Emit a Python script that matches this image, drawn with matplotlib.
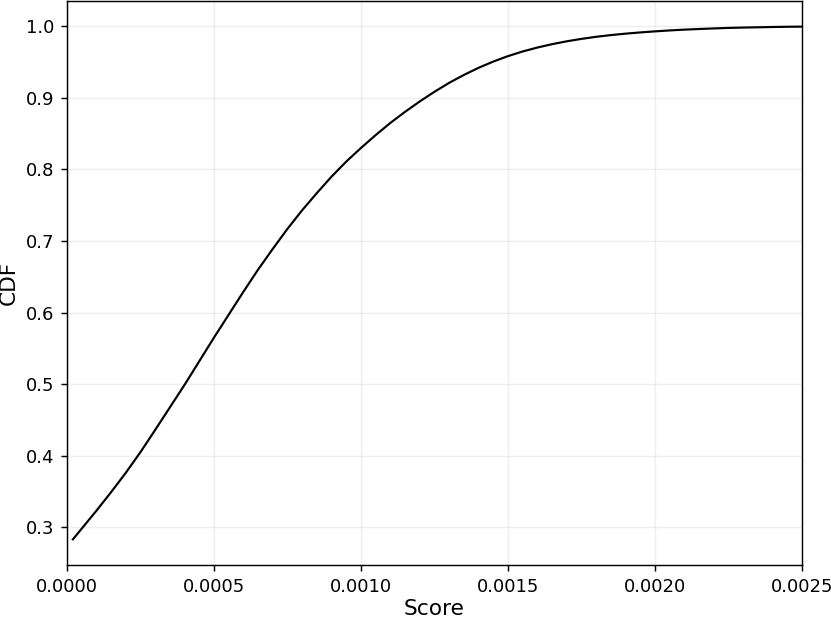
import matplotlib
matplotlib.use("Agg")
import matplotlib.pyplot as plt

# CDF of the score
score = [0.00002, 0.00005, 0.00010, 0.00015, 0.00020, 0.00025, 0.00030, 0.00035,
         0.00040, 0.00045, 0.00050, 0.00055, 0.00060, 0.00065, 0.00070, 0.00075,
         0.00080, 0.00085, 0.00090, 0.00095, 0.00100, 0.00105, 0.00110, 0.00115,
         0.00120, 0.00125, 0.00130, 0.00135, 0.00140, 0.00145, 0.00150, 0.00155,
         0.00160, 0.00165, 0.00170, 0.00175, 0.00180, 0.00185, 0.00190, 0.00195,
         0.00200, 0.00205, 0.00210, 0.00215, 0.00220, 0.00225, 0.00230, 0.00235,
         0.00240, 0.00245, 0.00250]
cdf = [0.283, 0.298, 0.323, 0.349, 0.376, 0.405, 0.436, 0.4675,
       0.499, 0.532, 0.565, 0.597, 0.629, 0.660, 0.689, 0.717,
       0.743, 0.767, 0.790, 0.811, 0.830, 0.848, 0.865, 0.8805,
       0.8950, 0.9085, 0.921, 0.932, 0.942, 0.9507, 0.9583, 0.9648,
       0.9703, 0.9750, 0.9790, 0.9824, 0.9853, 0.9877, 0.9897, 0.9914,
       0.9929, 0.9942, 0.9953, 0.9962, 0.9970, 0.9977, 0.9982, 0.9986,
       0.9990, 0.9993, 0.9995]

dpi = 130
fig = plt.figure(figsize=(831 / dpi, 622 / dpi), dpi=dpi)
ax = fig.add_subplot(111)
fig.subplots_adjust(left=67 / 831, right=802 / 831, bottom=1 - 565 / 622, top=1 - 1 / 622)

ax.plot(score, cdf, color="black", lw=1.2)
ax.set_xlim(0, 0.0025)
ax.set_xlabel("Score", fontsize=12, labelpad=2)
ax.set_ylabel("CDF", fontsize=12)
ax.grid(alpha=0.2)

fig.savefig("out.png", dpi=dpi)
